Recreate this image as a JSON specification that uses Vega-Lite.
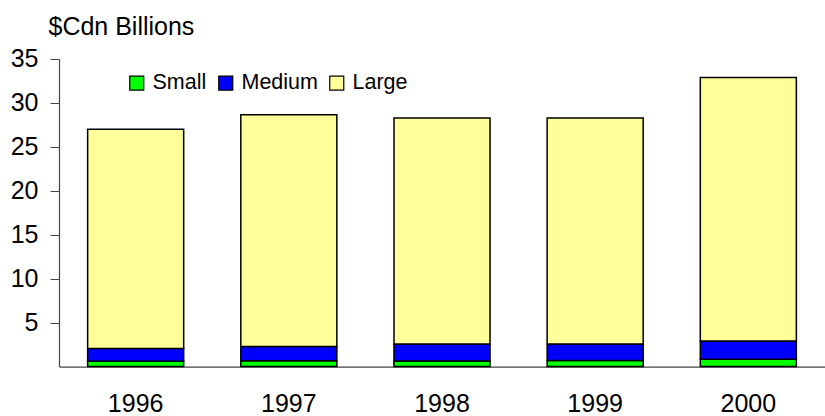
{
  "$schema": "https://vega.github.io/schema/vega-lite/v6.json",
  "autosize": "none",
  "padding": {"left": 59, "top": 59, "right": 0, "bottom": 50},
  "width": 766,
  "height": 307.6,
  "background": "white",
  "config": {
    "font": "Liberation Sans",
    "view": {"stroke": null},
    "axis": {"labelFont": "Liberation Sans", "titleFont": "Liberation Sans", "labelColor": "#000", "titleColor": "#000"}
  },
  "data": {
    "values": [
      {"year": "1996", "size": "Small", "order": 1, "value": 0.6},
      {"year": "1996", "size": "Medium", "order": 2, "value": 1.47},
      {"year": "1996", "size": "Large", "order": 3, "value": 24.93},
      {"year": "1997", "size": "Small", "order": 1, "value": 0.67},
      {"year": "1997", "size": "Medium", "order": 2, "value": 1.63},
      {"year": "1997", "size": "Large", "order": 3, "value": 26.35},
      {"year": "1998", "size": "Small", "order": 1, "value": 0.65},
      {"year": "1998", "size": "Medium", "order": 2, "value": 1.92},
      {"year": "1998", "size": "Large", "order": 3, "value": 25.71},
      {"year": "1999", "size": "Small", "order": 1, "value": 0.7},
      {"year": "1999", "size": "Medium", "order": 2, "value": 1.87},
      {"year": "1999", "size": "Large", "order": 3, "value": 25.71},
      {"year": "2000", "size": "Small", "order": 1, "value": 0.83},
      {"year": "2000", "size": "Medium", "order": 2, "value": 2.07},
      {"year": "2000", "size": "Large", "order": 3, "value": 30.0}
    ]
  },
  "mark": {"type": "bar", "stroke": "#000", "strokeWidth": 1.5},
  "encoding": {
    "x": {
      "field": "year", "type": "nominal",
      "scale": {"paddingInner": 0.373, "paddingOuter": 0.187},
      "axis": {
        "title": null, "labelAngle": 0, "labelFontSize": 25, "labelPadding": 25,
        "ticks": false, "domainColor": "#444", "domainWidth": 1.2
      }
    },
    "y": {
      "field": "value", "type": "quantitative", "stack": "zero",
      "scale": {"domain": [0, 35], "nice": false},
      "axis": {
        "title": "$Cdn Billions", "titleAngle": 0, "titleAlign": "left", "titleBaseline": "alphabetic",
        "titleX": -11, "titleY": -24, "titleFontSize": 25, "titleFontWeight": "normal",
        "values": [5, 10, 15, 20, 25, 30, 35],
        "labelFontSize": 25, "labelPadding": 12, "tickSize": 9, "tickColor": "#444",
        "domainColor": "#444", "domainWidth": 1.2, "grid": false
      }
    },
    "color": {
      "field": "size", "type": "nominal",
      "scale": {"domain": ["Small", "Medium", "Large"], "range": ["#00FF00", "#0000FF", "#FFFF99"]},
      "legend": {
        "title": null, "orient": "none", "direction": "horizontal",
        "legendX": 67, "legendY": 13,
        "symbolType": "square", "symbolSize": 196, "symbolStrokeColor": "#000", "symbolStrokeWidth": 1.2,
        "symbolOpacity": 1,
        "labelFontSize": 21.5, "labelOffset": 5, "columnPadding": 8, "labelColor": "#000"
      }
    },
    "order": {"field": "order", "type": "quantitative"}
  }
}
